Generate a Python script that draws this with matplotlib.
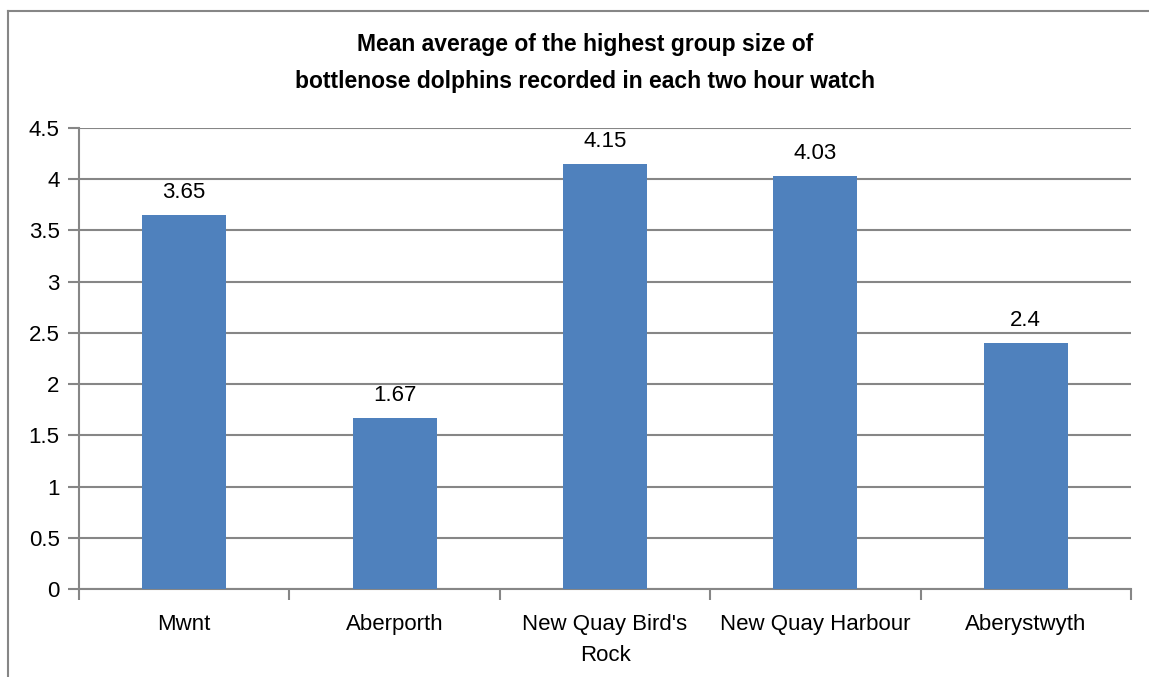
import matplotlib.pyplot as plt
from matplotlib.lines import Line2D

sites = ['Mwnt', 'Aberporth', "New Quay Bird's\nRock", 'New Quay Harbour', 'Aberystwyth']
group_size = [3.65, 1.67, 4.15, 4.03, 2.4]
value_labels = ['3.65', '1.67', '4.15', '4.03', '2.4']

plt.rcParams['font.family'] = ['Liberation Sans', 'DejaVu Sans']

fig = plt.figure(figsize=(11.49, 6.77), dpi=100)
ax = fig.add_axes([79 / 1149, 1 - 589 / 677, (1131 - 79) / 1149, (589 - 128) / 677])

grey = '#868686'
x = range(len(sites))
ax.bar(x, group_size, width=0.4, color='#4F81BD', zorder=3)
for i, v in enumerate(group_size):
    ax.text(i, v + 0.12, value_labels[i], ha='center', va='bottom', fontsize=16)

ax.set_xlim(-0.5, len(sites) - 0.5)
ax.set_ylim(0, 4.5)
ax.set_yticks([0, 0.5, 1, 1.5, 2, 2.5, 3, 3.5, 4, 4.5])
ax.set_yticklabels(['0', '0.5', '1', '1.5', '2', '2.5', '3', '3.5', '4', '4.5'])
ax.yaxis.grid(True, color=grey, linewidth=1.5, zorder=0)
ax.set_xticks(list(x))
ax.set_xticklabels(sites, fontsize=16, linespacing=1.6)
ax.set_xticks([i - 0.5 for i in range(len(sites) + 1)], minor=True)
ax.tick_params(axis='x', which='major', length=0, pad=18)
ax.tick_params(axis='x', which='minor', length=8, color=grey, width=1.5)
ax.tick_params(axis='y', length=8, color=grey, width=1.5, labelsize=16, pad=6)

for side in ['top', 'right']:
    ax.spines[side].set_visible(False)
for side in ['left', 'bottom']:
    ax.spines[side].set_color(grey)
    ax.spines[side].set_linewidth(1.5)

fig.text(585 / 1149, 1 - 63 / 677,
         'Mean average of the highest group size of\nbottlenose dolphins recorded in each two hour watch',
         ha='center', va='center', fontsize=16.5, fontweight='bold', linespacing=1.75)

fx, fy = 8 / 1149, 1 - 11 / 677
fig.add_artist(Line2D([fx, fx], [0, fy], color=grey, linewidth=1.5))
fig.add_artist(Line2D([fx, 1], [fy, fy], color=grey, linewidth=1.5))

fig.savefig('out.png', dpi=100)
